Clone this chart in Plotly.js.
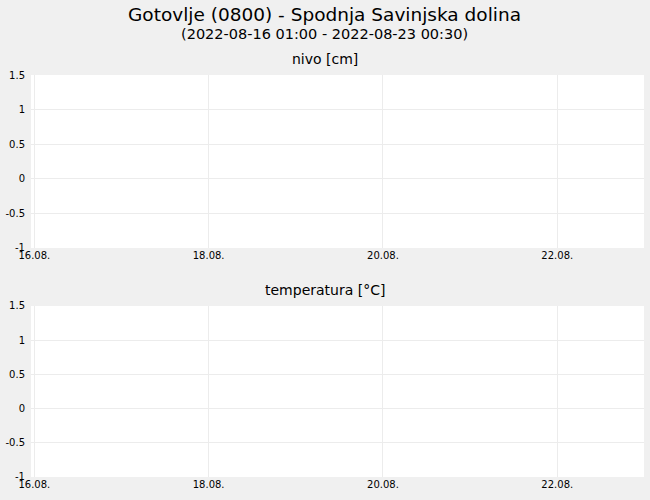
<!DOCTYPE html>
<html>
<head>
<meta charset="utf-8">
<script src="https://cdn.plot.ly/plotly-3.0.1.min.js"></script>
<style>html,body{margin:0;padding:0;background:#f0f0f0;}#chart{width:650px;height:500px;}</style>
</head>
<body>
<div id="chart"></div>
<script>
// Data (the reference shows no measurements in the period)
const times = [];
const nivo = [];
const temperatura = [];
const xRange = ['2022-08-15 23:05', '2022-08-22 23:53'];
const yRange = [-1, 1.5];
const tickVals = ['2022-08-16', '2022-08-18', '2022-08-20', '2022-08-22'];
const tickText = ['16.08.', '18.08.', '20.08.', '22.08.'];
const yTicks = [-1, -0.5, 0, 0.5, 1, 1.5];
const yTickText = ['-1', '-0.5', '0', '0.5', '1', '1.5'];
const mainTitle = 'Gotovlje (0800) - Spodnja Savinjska dolina';
const subTitle = '(2022-08-16 01:00 - 2022-08-23 00:30)';
const panelTitles = ['nivo [cm]', 'temperatura [°C]'];

const font = 'DejaVu Sans, sans-serif';
const grid = '#ececec';
const cx = 0.4788; // page centre expressed in plot-area paper units

const traces = [
  {x: times, y: nivo, type: 'scatter', mode: 'lines', xaxis: 'x', yaxis: 'y', line: {color: '#1f77b4'}},
  {x: times, y: temperatura, type: 'scatter', mode: 'lines', xaxis: 'x2', yaxis: 'y2', line: {color: '#d62728'}}
];

function xAxis(anchor) {
  return {
    type: 'date', range: xRange, anchor: anchor,
    tickmode: 'array', tickvals: tickVals, ticktext: tickText,
    showgrid: true, gridcolor: grid, zeroline: false, showline: false,
    ticks: '', tickfont: {family: font, size: 10, color: '#000'}, fixedrange: true
  };
}
function yAxis(domain, anchor) {
  return {
    range: yRange, domain: domain, anchor: anchor,
    tickmode: 'array', tickvals: yTicks, ticktext: yTickText,
    showgrid: true, gridcolor: grid, zeroline: false, showline: false,
    ticks: '', ticklabelstandoff: 5,
    tickfont: {family: font, size: 10, color: '#000'}, fixedrange: true
  };
}

const layout = {
  width: 650, height: 500,
  paper_bgcolor: '#f0f0f0', plot_bgcolor: '#ffffff',
  margin: {l: 31, r: 6, t: 75, b: 23},
  showlegend: false,
  font: {family: font, color: '#000'},
  xaxis: xAxis('y'),
  yaxis: yAxis([0.5697, 1], 'x'),
  xaxis2: xAxis('y2'),
  yaxis2: yAxis([0, 0.4254], 'x2'),
  annotations: [
    {text: mainTitle, xref: 'paper', yref: 'paper', x: cx, y: 1, yshift: 61, xanchor: 'center', yanchor: 'middle', showarrow: false, font: {family: font, size: 18.5, color: '#000'}},
    {text: subTitle, xref: 'paper', yref: 'paper', x: cx, y: 1, yshift: 41, xanchor: 'center', yanchor: 'middle', showarrow: false, font: {family: font, size: 14.5, color: '#000'}},
    {text: panelTitles[0], xref: 'paper', yref: 'paper', x: cx, y: 1, yshift: 16, xanchor: 'center', yanchor: 'middle', showarrow: false, font: {family: font, size: 14, color: '#000'}},
    {text: panelTitles[1], xref: 'paper', yref: 'paper', x: cx, y: 0.4254, yshift: 16, xanchor: 'center', yanchor: 'middle', showarrow: false, font: {family: font, size: 14, color: '#000'}}
  ]
};

Plotly.newPlot('chart', traces, layout, {displayModeBar: false, staticPlot: true});
</script>
</body>
</html>
